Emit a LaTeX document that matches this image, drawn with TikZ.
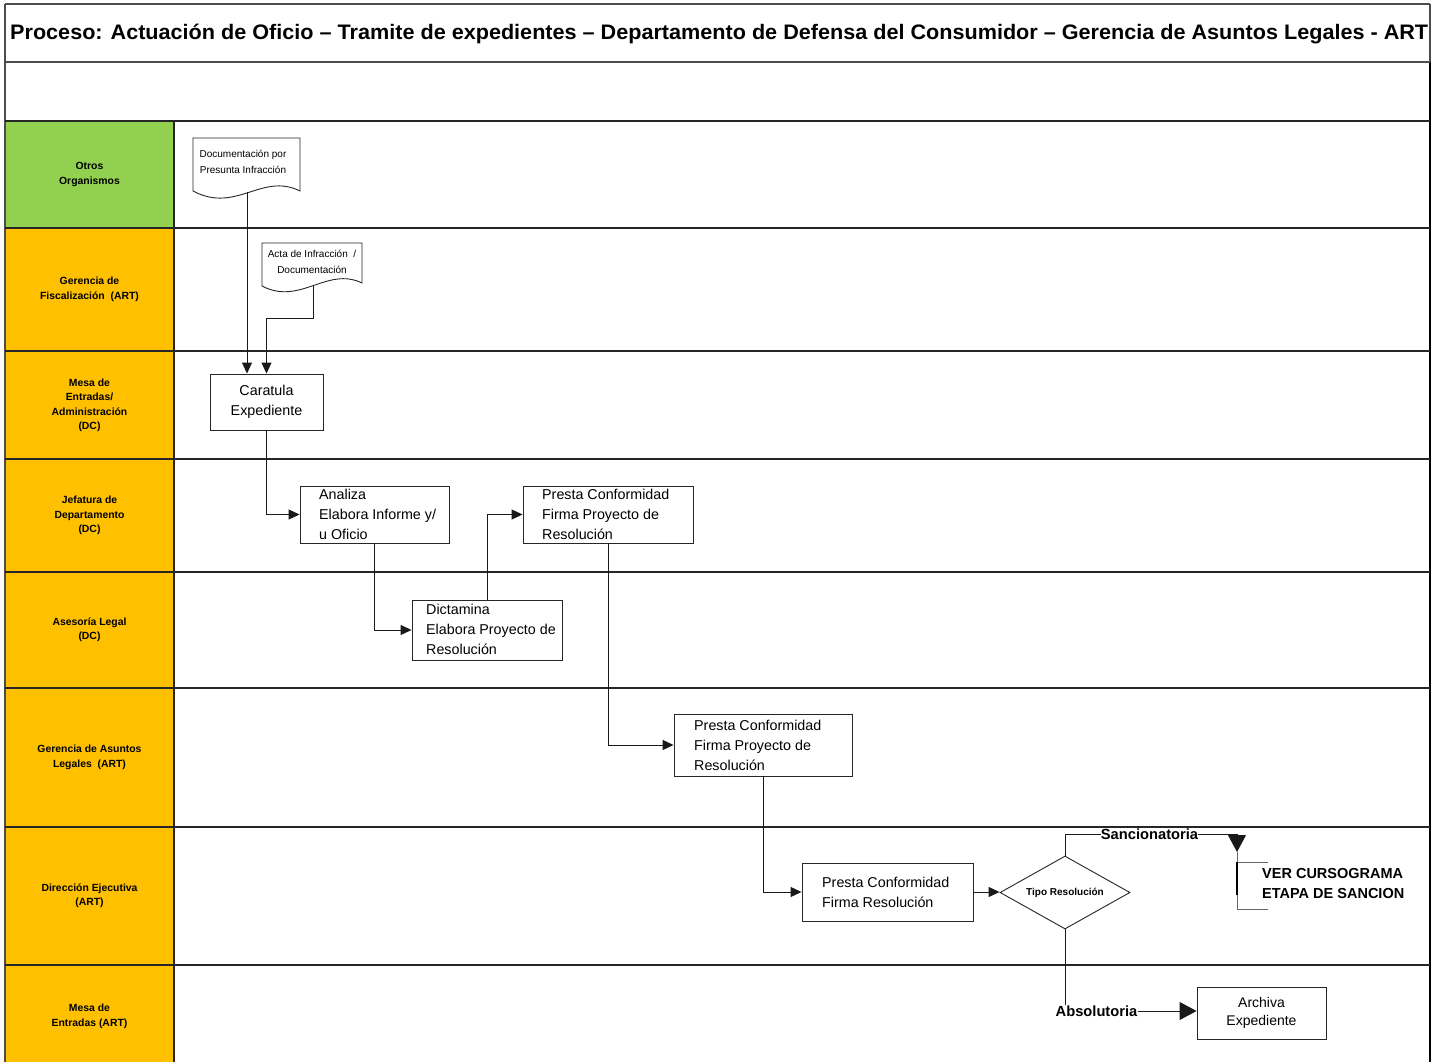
\documentclass[tikz,border=0pt]{standalone}
\usepackage{fontspec}
\setmainfont{Liberation Sans}
\usetikzlibrary{arrows.meta,shapes.geometric,calc}
\definecolor{lanegreen}{HTML}{92D050}
\definecolor{laneorange}{HTML}{FFC000}
\tikzset{
  laneline/.style={draw=black!85, line width=1.3pt},
  lanelabel/.style={align=center, inner sep=0pt, text=black, font=\fontsize{10.4}{14.5}\selectfont\bfseries},
  procbox/.style={draw=black!85, line width=0.9pt, fill=white, inner sep=0pt},
  boxtext/.style={align=left, anchor=west, inner sep=0pt, font=\fontsize{14.3}{20}\selectfont},
  ctext/.style={align=center, font=\fontsize{14.3}{20}\selectfont},
  doctext/.style={align=center, inner sep=0pt, font=\fontsize{10}{16}\selectfont},
  docshape/.style={draw=black!85, line width=0.9pt, fill=white},
  boldlbl/.style={inner sep=0pt, font=\fontsize{14.7}{16}\selectfont\bfseries},
  flow/.style={draw=black!90, line width=0.9pt, -{Triangle[length=11pt,width=10pt]}},
  plainline/.style={draw=black!90, line width=0.9pt},
  bigtip/.style={-{Triangle[length=17pt,width=18pt]}},
}
\begin{document}
\begin{tikzpicture}[x=1pt,y=-1pt]
\useasboundingbox (0,0) rectangle (1444,1062);
\fill[white] (0,0) rectangle (1444,1062);

% lane label backgrounds
\fill[lanegreen] (5,121) rectangle (174,228);
\fill[laneorange] (5,228) rectangle (174,1062);

% frame and lane lines
\draw[draw=black!70, line width=1.3pt] (5,4) -- (1430,4);
\draw[draw=black!70, line width=1.3pt] (5,4) -- (5,1062);
\draw[draw=black!70, line width=1.3pt] (1430,4) -- (1430,62);
\draw[draw=black, line width=2.4pt] (1430,62) -- (1430,1062);
\draw[draw=black!70, line width=1.3pt] (5,62) -- (1430,62);
\foreach \yy in {121,228,351,459,572,688,827,965}
  \draw[laneline] (5,\yy) -- (1430,\yy);
\draw[laneline] (174,121) -- (174,1062);

% title
\node[anchor=base west, inner sep=0pt] (title) at (10,39.5)
  {\resizebox{1418pt}{\height}{\fontsize{21}{24}\selectfont\bfseries Proceso: Actuación de Oficio – Tramite de expedientes – Departamento de Defensa del Consumidor – Gerencia de Asuntos Legales - ART}};

% lane labels
\node[lanelabel] (l1) at (89.5,174.5) {Otros\\Organismos};
\node[lanelabel] (l2) at (89.5,289.5) {Gerencia de\\Fiscalización\ \ (ART)};
\node[lanelabel] (l3) at (89.5,405.5) {Mesa de\\Entradas/\\Administración\\(DC)};
\node[lanelabel] (l4) at (89.5,515.5) {Jefatura de\\Departamento\\(DC)};
\node[lanelabel] (l5) at (89.5,630) {Asesoría Legal\\(DC)};
\node[lanelabel] (l6) at (89.5,757.5) {Gerencia de Asuntos\\Legales\ \ (ART)};
\node[lanelabel] (l7) at (89.5,896) {Dirección Ejecutiva\\(ART)};
\node[lanelabel] (l8) at (89.5,1016.5) {Mesa de\\Entradas (ART)};

% documents
\draw[docshape] (193,138) -- (300,138) -- (300,191) .. controls (262,172) and (236,214) .. (193,191) -- cycle;
\node[doctext] (doc1) at (243,162) {Documentación por\\Presunta Infracción};
\coordinate (doc1b) at (247,192);

\draw[docshape] (262,243) -- (362,243) -- (362,283) .. controls (327,266) and (300,306) .. (262,286) -- cycle;
\node[doctext] (doc2) at (312,262) {Acta de Infracción\ \ /\\Documentación};
\coordinate (doc2b) at (313,285.6);

% process boxes
\node[procbox, ctext, minimum width=113pt, minimum height=56pt] (carat) at (266.5,402) {Caratula\\Expediente};

\node[procbox, minimum width=149pt, minimum height=57pt] (analiza) at (374.5,514.5) {};
\node[boxtext] (analizat) at (319,514) {Analiza\\Elabora Informe y/\\u Oficio};

\node[procbox, minimum width=150pt, minimum height=60pt] (dict) at (487,630) {};
\node[boxtext] (dictt) at (426,629) {Dictamina\\Elabora Proyecto de\\Resolución};

\node[procbox, minimum width=170pt, minimum height=57pt] (presta1) at (608,514.5) {};
\node[boxtext] (presta1t) at (542,514) {Presta Conformidad\\Firma Proyecto de\\Resolución};

\node[procbox, minimum width=178pt, minimum height=62pt] (presta2) at (763,745) {};
\node[boxtext] (presta2t) at (694,745) {Presta Conformidad\\Firma Proyecto de\\Resolución};

\node[procbox, minimum width=171pt, minimum height=58pt] (presta3) at (887.5,892) {};
\node[boxtext] (presta3t) at (822,892) {Presta Conformidad\\Firma Resolución};

\node[diamond, aspect=1.78, draw=black!85, line width=0.9pt, fill=white, inner sep=0pt,
      minimum width=130pt, minimum height=73pt, font=\fontsize{10}{12}\selectfont\bfseries] (tipo) at (1065,892.5) {Tipo Resolución};

\node[procbox, align=center, font=\fontsize{14}{18}\selectfont, minimum width=129pt, minimum height=52pt] (archiva) at (1261.5,1013) {Archiva\\Expediente};

% labels on branches
\node[boldlbl] (sanc) at (1149.5,834) {Sancionatoria};
\node[boldlbl] (absol) at (1096.5,1011) {Absolutoria};
\node[align=left, anchor=west, inner sep=0pt, font=\fontsize{14.5}{20}\selectfont\bfseries] (ver) at (1262,884) {VER CURSOGRAMA\\ETAPA DE SANCION};
\coordinate (sanctip) at (1237,852);
\coordinate (brtop) at (1237,862);
\coordinate (brbot) at (1237,909);

% connectors
\draw[flow] (doc1b) -- (doc1b |- carat.north);
\coordinate (j2) at (266.5,318);
\draw[flow] (doc2b) |- (j2) -- (carat.north);
\draw[flow] (carat.south) |- (analiza.west);
\draw[flow] (analiza.south) |- (dict.west);
\draw[flow] (dict.north) |- (presta1.west);
\draw[flow] (presta1.south) |- (presta2.west);
\draw[flow] (presta2.south) |- (presta3.west);
\draw[flow] (presta3.east) -- (presta3.east -| tipo.west);
\draw[plainline] (tipo.north) |- (sanc.west);
\draw[plainline, bigtip] (sanc.east) -| (sanctip);
\draw[plainline] (tipo.south) -- (tipo.south |- absol.north);
\draw[plainline, bigtip] (absol.east) -- (absol.east -| archiva.west);

% annotation bracket
\draw[draw=black!60, line width=0.9pt] (sanctip) -- (brtop);
\draw[draw=black!60, line width=0.9pt] ($(brtop)+(31,0)$) -- (brtop) -- (brbot) -- ($(brbot)+(31,0)$);
\draw[draw=black, line width=2pt] (brtop) -- ($(brtop)+(0,33)$);
\end{tikzpicture}
\end{document}
